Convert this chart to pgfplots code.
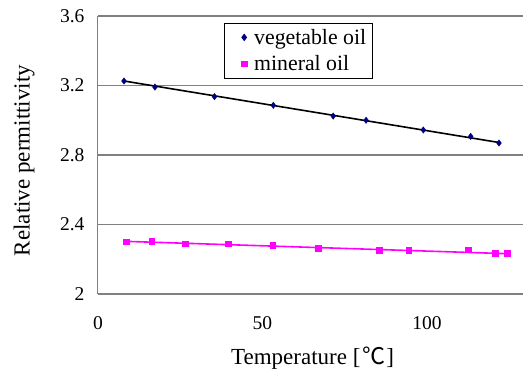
\documentclass[border=0pt]{standalone}
\usepackage{fontspec}
\setmainfont{Liberation Serif}
\newfontfamily\cjk{Noto Sans CJK SC}
\usepackage{pgfplots}
\pgfplotsset{compat=1.18}
\definecolor{veg}{RGB}{0,0,128}
\definecolor{mag}{RGB}{255,0,255}
\definecolor{gridgray}{RGB}{128,128,128}
\begin{document}
\begin{tikzpicture}
\useasboundingbox (-98pt,-82pt) rectangle (425pt,294pt);
\begin{axis}[
  at={(0,0)}, anchor=south west,
  scale only axis, width=425pt, height=278pt,
  xmin=0, xmax=129.2, ymin=2, ymax=3.6,
  xtick={0,50,100}, ytick={2,2.4,2.8,3.2,3.6},
  axis x line*=box, axis y line*=left,
  axis line style={draw=gridgray, line width=1pt},
  major tick length=0pt,
  ymajorgrids, grid style={draw=gridgray, line width=1.3pt},
  /pgf/number format/assume math mode=true,
  tick label style={font=\fontsize{19.5}{22}\selectfont, text=black},
  xticklabel style={yshift=-19pt},
  yticklabel style={xshift=-10pt},
  xlabel={Temperature [\hspace{2pt}{\cjk ℃}\hspace{1pt}]},
  ylabel={Relative permittivity},
  label style={font=\fontsize{23}{26}\selectfont},
  xlabel style={at={(axis description cs:0.505,-0.255)}, anchor=base},
  ylabel style={at={(axis description cs:-0.174,0.48)}, anchor=center, rotate=0},
  legend style={at={(0.296,0.976)}, anchor=north west, draw=black, line width=0.8pt,
    font=\fontsize{21.8}{24}\selectfont, inner xsep=4pt, inner ysep=4pt,
    row sep=6pt, legend cell align=left},
  legend image code/.code={\path[draw=none] (0pt,0pt) -- (24pt,0pt); \draw[#1] plot coordinates {(16pt,0pt)};},
]
\addplot[black, line width=1.6pt, forget plot] coordinates {(7.9,3.226) (121.9,2.872)};
\addplot[mag, line width=1.6pt, forget plot] coordinates {(8.5,2.303) (124.4,2.232)};
\addplot[only marks, mark=diamond*, mark size=3.2pt, color=veg] coordinates {
(7.9,3.226) (17.3,3.191) (35.4,3.136) (53.3,3.086) (71.5,3.024) (81.5,3.000) (98.9,2.944) (113.3,2.907) (121.9,2.869)};
\addlegendentry{vegetable oil}
\addplot[only marks, mark=square*, mark size=2.8pt, color=mag] coordinates {
(8.5,2.301) (16.3,2.303) (26.5,2.290) (39.5,2.290) (53.1,2.282) (67.0,2.265) (85.5,2.253) (94.4,2.253) (112.5,2.255) (120.7,2.234) (124.4,2.234)};
\addlegendentry{mineral oil}
\end{axis}
\end{tikzpicture}
\end{document}
